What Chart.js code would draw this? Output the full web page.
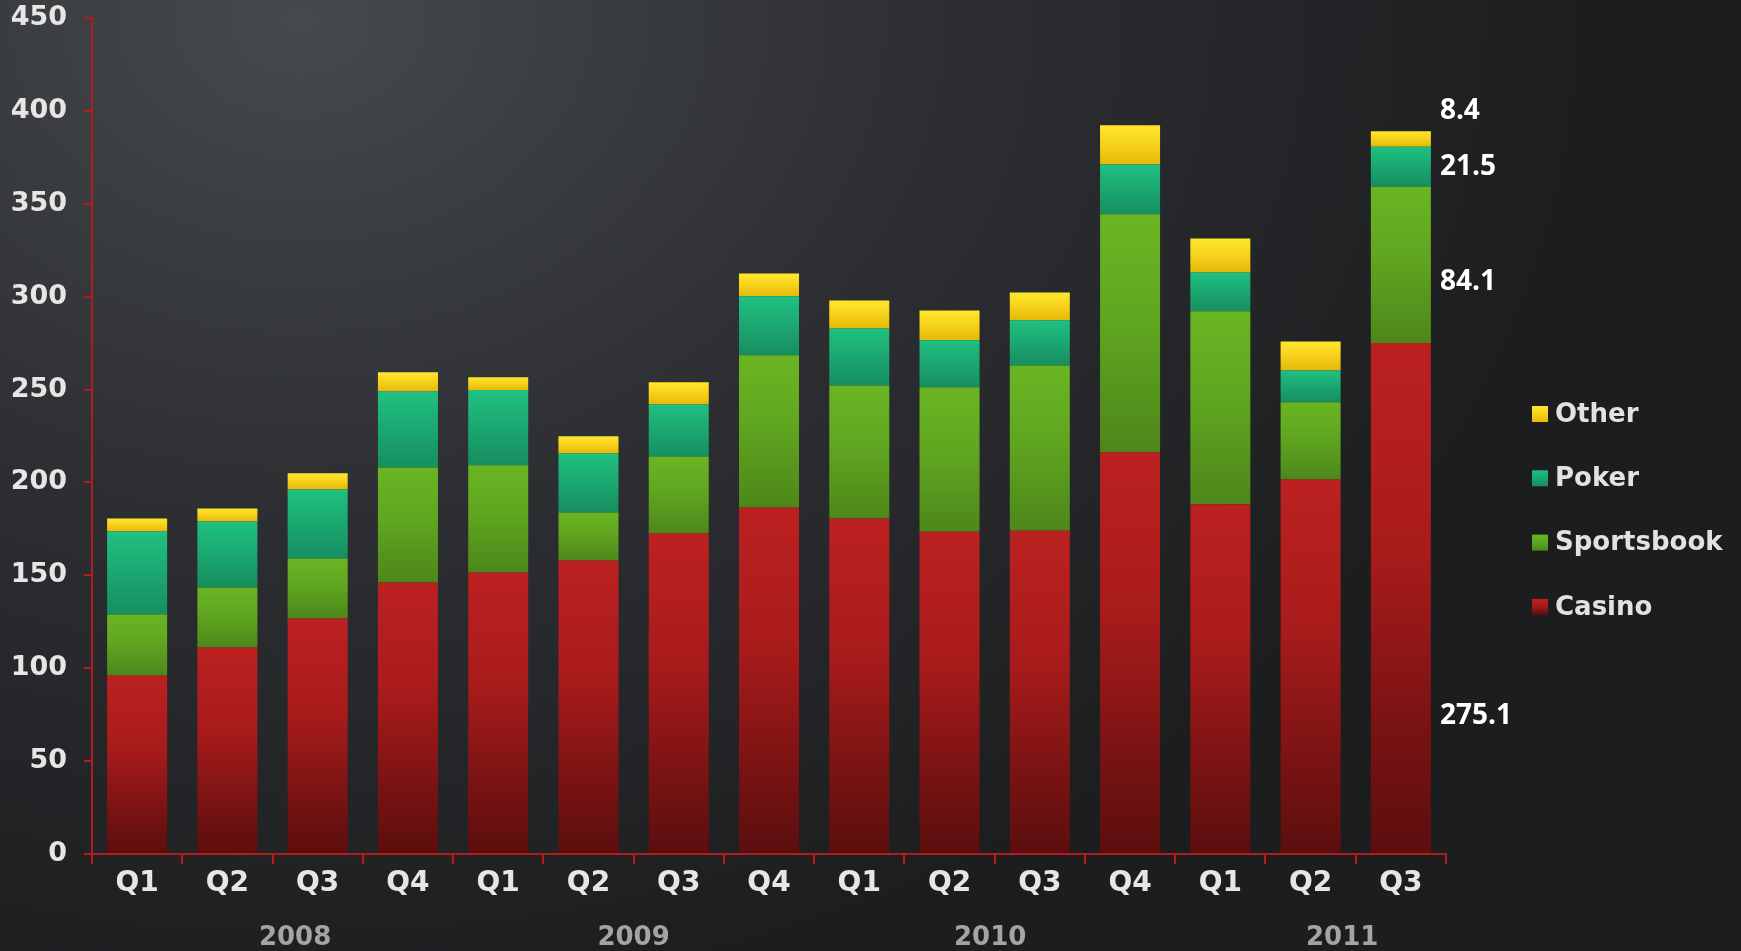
<!DOCTYPE html>
<html>
<head>
<meta charset="utf-8">
<script src="https://cdn.jsdelivr.net/npm/chart.js@4.4.1/dist/chart.umd.min.js"></script>
<style>
  html, body { margin: 0; padding: 0; overflow: hidden; }
  body {
    width: 1741px; height: 951px;
    background: radial-gradient(ellipse 1300px 1000px at 300px 20px, #46494d 0%, #2c2e31 50%, #1b1d1f 100%);
  }
  canvas { display: block; }
</style>
</head>
<body>
<canvas id="chart01" width="1741" height="951"></canvas>
<script>
// quarters on the x axis
const quarters = ["Q1","Q2","Q3","Q4","Q1","Q2","Q3","Q4","Q1","Q2","Q3","Q4","Q1","Q2","Q3"];
// year labels, placed on the quarter index scale
const yearLabels = ["2008", "2009", "2010", "2011"];
const yearPositions = [1.75, 5.5, 9.45, 13.35];
const yTicks = [0, 50, 100, 150, 200, 250, 300, 350, 400, 450];

const casino     = [96.1, 111.1, 126.8, 146.1, 151.5, 158.0, 172.5, 186.5, 180.6, 173.5, 174.0, 216.2, 188.2, 201.6, 275.1];
const sportsbook = [32.8, 32.4, 32.3, 62.0, 57.7, 25.8, 41.5, 81.9, 71.6, 77.7, 89.0, 128.1, 103.9, 41.5, 84.1];
const poker      = [44.7, 35.5, 37.1, 40.9, 40.5, 31.8, 28.0, 31.8, 30.7, 25.3, 24.3, 26.9, 20.9, 17.2, 21.5];
const other      = [7.0, 7.0, 8.7, 10.3, 6.9, 9.2, 11.9, 12.3, 15.1, 16.1, 15.0, 21.1, 18.3, 15.6, 8.4];

// value labels next to the last bar, and the level they sit at
const lastLabels = ["275.1", "84.1", "21.5", "8.4"];
const lastLabelLevels = [74, 308, 370, 400];

const seriesNames = ["Casino", "Sportsbook", "Poker", "Other"];
const series = [casino, sportsbook, poker, other];

// gradient stops per series (top of segment -> bottom)
const gradStops = [
    [[0, "#bc2121"], [0.4, "#a91b1b"], [0.75, "#7a1313"], [1, "#5b0e0e"]],
    [[0, "#6ab523"], [0.45, "#60a620"], [1, "#4d871a"]],
    [[0, "#1fc181"], [0.5, "#1ba771"], [1, "#178e60"]],
    [[0, "#ffe72d"], [0.45, "#f7d41c"], [1, "#e6b80a"]]
];

const tickFont = "'DejaVu Sans', sans-serif";
const red = "#b31c1c";

function segGradient(ctx, k, yTop, yBottom) {
    const g = ctx.createLinearGradient(0, yTop, 0, yBottom);
    gradStops[k].forEach(s => g.addColorStop(s[0], s[1]));
    return g;
}

function barFill(k) {
    return function (context) {
        const chart = context.chart;
        if (!chart.chartArea || context.type !== "data") {
            return gradStops[k][0][1];
        }
        const i = context.dataIndex;
        let base = 0;
        for (let j = 0; j < k; j++) base += series[j][i];
        const yScale = chart.scales.y;
        const yTop = yScale.getPixelForValue(base + series[k][i]);
        const yBottom = yScale.getPixelForValue(base);
        return segGradient(chart.ctx, k, yTop, yBottom);
    };
}

// labels beside the last bar + the legend on the right
const sidePlugin = {
    id: "sidePlugin",
    afterDatasetsDraw(chart) {
        const ctx = chart.ctx;
        const yScale = chart.scales.y;
        const last = quarters.length - 1;
        ctx.save();
        ctx.font = "bold 28px 'Open Sans', sans-serif";
        ctx.fillStyle = "#ffffff";
        ctx.textAlign = "left";
        ctx.textBaseline = "middle";
        lastLabels.forEach((txt, k) => {
            const bar = chart.getDatasetMeta(k).data[last];
            ctx.fillText(txt, bar.x + bar.width / 2 + 9, yScale.getPixelForValue(lastLabelLevels[k]));
        });

        // legend (Other on top, Casino at the bottom)
        ctx.font = "bold 26px " + tickFont;
        const boxX = 1532, textX = 1555, firstY = 414, step = 64.3;
        for (let n = 0; n < 4; n++) {
            const k = 3 - n;
            const cy = firstY + n * step;
            ctx.fillStyle = segGradient(ctx, k, cy - 8, cy + 8);
            ctx.fillRect(boxX, cy - 8, 16, 16);
            ctx.fillStyle = "#e2e2e2";
            ctx.fillText(seriesNames[k], textX, cy + 1);
        }
        ctx.restore();
    }
};

new Chart(document.getElementById("chart01"), {
    type: "bar",
    data: {
        labels: quarters,
        datasets: series.map((vals, k) => ({
            label: seriesNames[k],
            data: vals,
            backgroundColor: barFill(k),
            borderWidth: 0,
            categoryPercentage: 1,
            barPercentage: 0.665
        }))
    },
    options: {
        responsive: false,
        animation: false,
        layout: { padding: { left: 0, right: 295, top: 18, bottom: 0 } },
        plugins: {
            legend: { display: false },
            tooltip: { enabled: false }
        },
        scales: {
            x: {
                stacked: true,
                weight: 0,
                offset: true,
                border: { color: red, width: 2 },
                grid: { offset: true, drawOnChartArea: false, color: red, lineWidth: 2, tickLength: 10 },
                ticks: {
                    autoSkip: false, maxRotation: 0, padding: 6,
                    color: "#e6e6e6",
                    font: { family: tickFont, size: 28, weight: "bold", lineHeight: 1 }
                },
                afterFit: axis => { axis.height = 50; axis.paddingLeft = 0; axis.paddingRight = 0; }
            },
            years: {
                type: "linear",
                position: "bottom",
                weight: 1,
                offset: false,
                min: -0.5,
                max: quarters.length - 0.5,
                grid: { display: false, drawTicks: false },
                border: { display: false },
                afterBuildTicks: axis => { axis.ticks = yearPositions.map(v => ({ value: v })); },
                ticks: {
                    autoSkip: false, maxRotation: 0, padding: 21,
                    color: "#a4a4a4",
                    font: { family: tickFont, size: 26, weight: "bold", lineHeight: 1 },
                    callback: (v, i) => yearLabels[i]
                },
                afterFit: axis => { axis.height = 47; axis.paddingLeft = 0; axis.paddingRight = 0; }
            },
            y: {
                stacked: true,
                min: 0,
                max: 450,
                afterBuildTicks: axis => { axis.ticks = yTicks.map(v => ({ value: v })); },
                border: { color: red, width: 2 },
                grid: { drawOnChartArea: false, color: red, lineWidth: 2, tickLength: 8 },
                ticks: {
                    padding: 17,
                    color: "#e6e6e6",
                    font: { family: tickFont, size: 27, weight: "bold" }
                },
                afterFit: axis => { axis.width = 92; axis.paddingTop = 0; axis.paddingBottom = 0; }
            }
        }
    },
    plugins: [sidePlugin]
});
</script>
</body>
</html>
